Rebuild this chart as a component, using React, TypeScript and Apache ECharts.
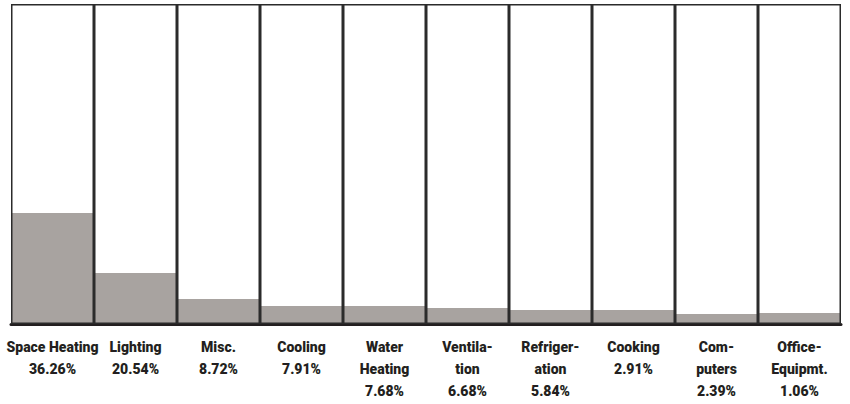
import React, { useEffect, useRef } from "react";
import * as echarts from "echarts";

const categories = [
  "Space Heating",
  "Lighting",
  "Misc.",
  "Cooling",
  "Water\nHeating",
  "Ventila-\ntion",
  "Refriger-\nation",
  "Cooking",
  "Com-\nputers",
  "Office-\nEquipmt.",
];
const shareLabels = ["36.26%", "20.54%", "8.72%", "7.91%", "7.68%", "6.68%", "5.84%", "2.91%", "2.39%", "1.06%"];
// fill level of each column as drawn in the picture (percent of the column height)
const fillLevels = [34.7, 15.9, 7.8, 5.6, 5.6, 5.0, 4.4, 4.4, 3.1, 3.4];
const columnFull = categories.map(() => 100);

export default function App() {
  const ref = useRef<HTMLDivElement>(null);
  useEffect(() => {
    if (!ref.current) return;
    const chart = echarts.init(ref.current, null, { renderer: "svg" });
    const font = "Roboto, 'Liberation Sans', sans-serif";
    chart.setOption({
      animation: false,
      grid: { left: 11, right: 9, top: 4, bottom: 80, containLabel: false },
      xAxis: {
        type: "category",
        data: categories,
        axisTick: { show: false },
        axisLine: { show: true, lineStyle: { color: "#231f20", width: 3 } },
        axisLabel: {
          interval: 0,
          margin: 12,
          color: "#231f20",
          fontFamily: font,
          fontWeight: 900,
          fontSize: 14,
          lineHeight: 22,
          formatter: (v: string, i: number) => `${v}\n${shareLabels[i]}`,
        },
      },
      yAxis: { type: "value", min: 0, max: 100, show: false },
      series: [
        {
          type: "bar",
          data: fillLevels,
          barWidth: "100%",
          barGap: "-100%",
          itemStyle: { color: "#a8a3a0" },
          z: 2,
        },
        {
          type: "bar",
          data: columnFull,
          barWidth: "100%",
          barGap: "-100%",
          itemStyle: { color: "rgba(0,0,0,0)", borderColor: "#2b2b2b", borderWidth: 1.5 },
          z: 3,
        },
      ],
    });
    return () => chart.dispose();
  }, []);
  return <div ref={ref} style={{ width: 850, height: 404, position: "absolute", left: 0, top: 0 }} />;
}
